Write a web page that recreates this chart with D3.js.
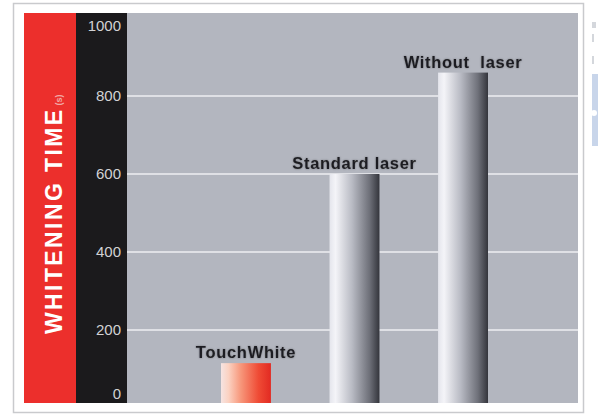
<!DOCTYPE html>
<html>
<head>
<meta charset="utf-8">
<script src="https://cdn.jsdelivr.net/npm/d3@7"></script>
<style>
  body { margin: 0; background: #fff; }
  svg { display: block; }
</style>
</head>
<body>
<svg width="598" height="418"></svg>
<script>
const width = 598
const height = 418

const categories = ["TouchWhite", "Standard laser", "Without  laser"]
const values = [115, 600, 860]
const tickValues = [0, 200, 400, 600, 800, 1000]
const gridValues = [200, 400, 600, 800]
const yTitle = "WHITENING TIME"
const yUnit = "(s)"

const plot = { left: 127, right: 578, top: 13, bottom: 403 }

const svg = d3.select("svg")
const defs = svg.append("defs")

// soft halo behind bar labels
const halo = defs.append("filter").attr("id", "halo")
	.attr("x", "-10%").attr("y", "-40%").attr("width", "120%").attr("height", "180%")
halo.append("feGaussianBlur").attr("in", "SourceAlpha").attr("stdDeviation", 1.2).attr("result", "b")
halo.append("feComponentTransfer").attr("in", "b").attr("result", "s")
	.append("feFuncA").attr("type", "linear").attr("slope", 0.35)
const merge = halo.append("feMerge")
merge.append("feMergeNode").attr("in", "s")
merge.append("feMergeNode").attr("in", "SourceGraphic")

// outer frame
svg.append("rect")
	.attr("x", 13.5).attr("y", 3.5)
	.attr("width", 570).attr("height", 409)
	.style("fill", "#fff")
	.style("stroke", "#c9cacd")
	.style("stroke-width", "1.5px")

// red + black side strips
svg.append("rect").attr("x", 24).attr("y", plot.top)
	.attr("width", 52).attr("height", plot.bottom - plot.top)
	.style("fill", "#ec2f2c")
svg.append("rect").attr("x", 76).attr("y", plot.top)
	.attr("width", plot.left - 76).attr("height", plot.bottom - plot.top)
	.style("fill", "#1b1a1c")

// grey plot
svg.append("rect").attr("x", plot.left).attr("y", plot.top)
	.attr("width", plot.right - plot.left).attr("height", plot.bottom - plot.top)
	.style("fill", "#b3b6bf")

defs.append("clipPath").attr("id", "plotClip")
	.append("rect").attr("x", plot.left).attr("y", plot.top)
	.attr("width", plot.right - plot.left).attr("height", plot.bottom - plot.top)

const yScale = d3.scaleLinear().domain([0, 1000]).range([408, 18])
const xScale = d3.scaleBand().domain(categories).range([221, 488]).paddingInner(0.54)

// gridlines
svg.append("g").attr("clip-path", "url(#plotClip)")
	.selectAll("line").data(gridValues).enter().append("line")
	.attr("x1", plot.left).attr("x2", plot.right)
	.attr("y1", d => yScale(d)).attr("y2", d => yScale(d))
	.style("stroke", "#dfe0e5")
	.style("stroke-width", "2px")

// tick labels
const yAxis = d3.axisLeft(yScale).tickValues(tickValues).tickFormat(d3.format("d"))
	.tickSize(0).tickPadding(0)
const yAxisG = svg.append("g").attr("transform", "translate(121,0)").call(yAxis)
yAxisG.select(".domain").remove()
yAxisG.selectAll(".tick")
	.attr("transform", d => `translate(0,${Math.min(394, Math.max(26, yScale(d)))})`)
yAxisG.selectAll("text")
	.attr("dy", "0.36em")
	.style("font-family", "'Liberation Sans', Arial, sans-serif")
	.style("font-size", "15px")
	.style("fill", "#d2d2d4")

// bar gradients
const greyGrad = defs.append("linearGradient").attr("id", "greyGrad")
greyGrad.selectAll("stop").data([
	[0, "#e4e5ec"], [0.12, "#f4f4f8"], [0.45, "#b9bbc4"], [0.8, "#6e7079"], [1, "#34353c"]
]).enter().append("stop")
	.attr("offset", d => d[0]).attr("stop-color", d => d[1])

const redGrad = defs.append("linearGradient").attr("id", "redGrad")
redGrad.selectAll("stop").data([
	[0, "#f6e4e2"], [0.15, "#fbd2c2"], [0.4, "#f7967a"], [0.75, "#ef4b35"], [1, "#e22a22"]
]).enter().append("stop")
	.attr("offset", d => d[0]).attr("stop-color", d => d[1])

const data = categories.map((c, i) => ({ name: c, value: values[i] }))

const bars = svg.append("g").attr("clip-path", "url(#plotClip)")
bars.selectAll("rect").data(data).enter().append("rect")
	.attr("x", d => xScale(d.name))
	.attr("y", d => yScale(d.value))
	.attr("width", xScale.bandwidth())
	.attr("height", d => yScale(0) - yScale(d.value))
	.style("fill", (d, i) => i === 0 ? "url(#redGrad)" : "url(#greyGrad)")

// bar labels
svg.append("g").attr("filter", "url(#halo)")
	.selectAll("text").data(data).enter().append("text")
	.attr("x", d => xScale(d.name) + xScale.bandwidth() / 2)
	.attr("y", d => yScale(d.value) - 5)
	.attr("text-anchor", "middle")
	.style("white-space", "pre")
	.style("font-family", "'Liberation Sans', Arial, sans-serif")
	.style("font-weight", "bold")
	.style("font-size", "16.5px")
	.style("letter-spacing", "0.7px")
	.style("fill", "#1f1f22")
	.text(d => d.name)

// y title, rotated
const title = svg.append("text")
	.attr("transform", "translate(62,334) rotate(-90)")
	.style("font-family", "'Liberation Sans', Arial, sans-serif")
	.style("font-weight", "bold")
	.style("fill", "#fff")
title.append("tspan")
	.style("font-size", "23px")
	.style("letter-spacing", "2.4px")
	.text(yTitle)
title.append("tspan")
	.attr("dx", 2)
	.style("font-size", "9px")
	.style("fill", "#f2a8a4")
	.text(yUnit)

// bit of the neighbouring page at the right edge
svg.append("rect").attr("x", 592).attr("y", 74).attr("width", 6).attr("height", 72)
	.style("fill", "#c8d5ea")
svg.append("circle").attr("cx", 594).attr("cy", 113).attr("r", 3).style("fill", "#fff")
svg.append("rect").attr("x", 592).attr("y", 22).attr("width", 4).attr("height", 6).style("fill", "#d4d7dc")
svg.append("rect").attr("x", 592).attr("y", 34).attr("width", 2).attr("height", 8).style("fill", "#d4d7dc")
svg.append("rect").attr("x", 592).attr("y", 56).attr("width", 2).attr("height", 8).style("fill", "#d4d7dc")
</script>
</body>
</html>
